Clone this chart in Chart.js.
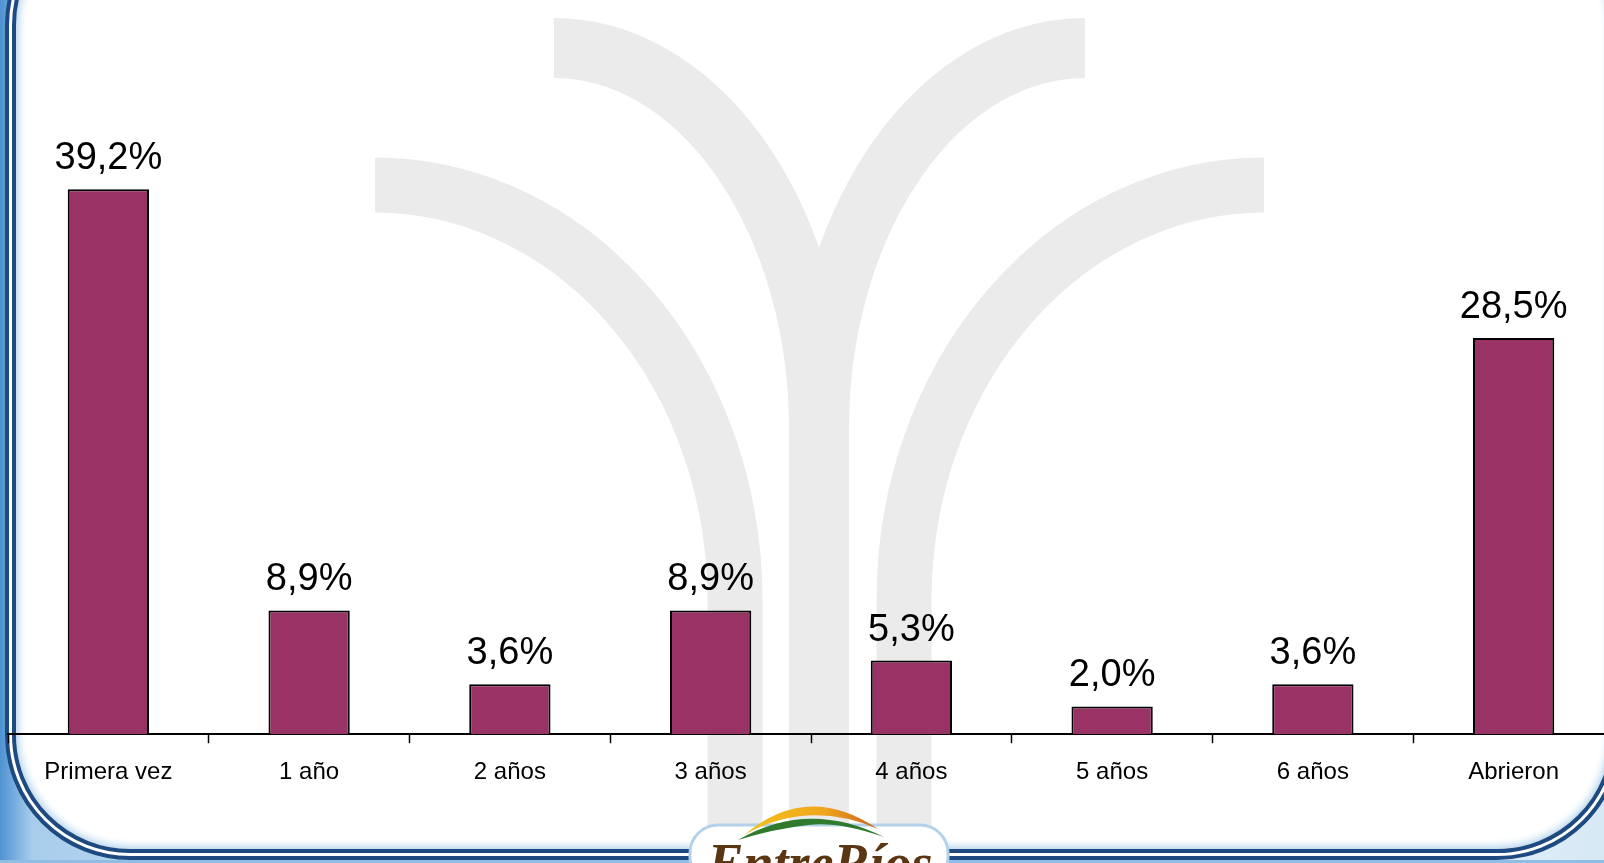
<!DOCTYPE html>
<html lang="es">
<head>
<meta charset="utf-8">
<title>Distribución por antigüedad</title>
<script src="https://cdn.jsdelivr.net/npm/chart.js@4.4.1/dist/chart.umd.min.js"></script>
<style>
  html, body { margin: 0; padding: 0; }
  body {
    width: 1604px; height: 863px; overflow: hidden; position: relative;
    background: linear-gradient(90deg, #4f92d2 0, #a8cdec 2%, #dcebf8 30%, #f3f8fd 60%, #d8e9f6 100%);
  }
  #frame {
    position: absolute; left: 5px; top: -100px; width: 1617px; height: 960px;
    box-sizing: border-box; border: 11px double #1d4a80; border-radius: 125px;
    background: #fff; box-shadow: inset 0 0 8px 2px #a9cdea;
  }
  #bottomBand {
    position: absolute; left: 0; top: 860px; width: 1604px; height: 3px; background: #8fbde3;
  }
  #tree, #logo, #chartWrap { position: absolute; }
  #tree { left: 0; top: 0; }
  #chartWrap { left: 0; top: 0; width: 1640px; height: 863px; }
  #logo { left: 688px; top: 795px; }
</style>
</head>
<body>
<div id="frame"></div>
<div id="bottomBand"></div>

<!-- faint tree watermark behind the chart -->
<svg id="tree" width="1604" height="863" viewBox="0 0 1604 863">
  <g fill="none" stroke="#ebebeb" stroke-linecap="butt">
    <path d="M 375 185 A 360 415 0 0 1 735 600 L 735 850" stroke-width="55"/>
    <path d="M 1264 185 A 360 415 0 0 0 904 600 L 904 850" stroke-width="55"/>
    <path d="M 554 48 A 265 381 0 0 1 819 429 L 819 850" stroke-width="60"/>
    <path d="M 1085 48 A 266 381 0 0 0 819 429 L 819 850" stroke-width="60"/>
  </g>
</svg>

<div id="chartWrap"><canvas id="barChart" width="1640" height="863"></canvas></div>

<svg id="logo" width="264" height="68" viewBox="0 0 264 68">
  <defs>
    <linearGradient id="sun" x1="0" y1="0" x2="1" y2="0">
      <stop offset="0" stop-color="#f4c21a"/>
      <stop offset="0.6" stop-color="#f0a51e"/>
      <stop offset="1" stop-color="#c8641e"/>
    </linearGradient>
  </defs>
  <rect x="2" y="30" width="258" height="60" rx="28" fill="#fff" stroke="#b3d2ea" stroke-width="3"/>
  <path d="M 56 40 Q 120 -14 190 34 Q 120 4 56 40 Z" fill="url(#sun)"/>
  <path d="M 50 45 Q 120 4 196 42 Q 150 26 120 30 Q 85 34 50 45 Z" fill="#2f7a2c"/>
  <text x="132" y="86" text-anchor="middle" font-family="'Liberation Serif', 'DejaVu Serif', serif"
        font-style="italic" font-weight="bold" font-size="54" fill="#5a3612">EntreRíos</text>
</svg>

<script>
// Data
const categories = ['Primera vez', '1 año', '2 años', '3 años', '4 años', '5 años', '6 años', 'Abrieron'];
const percentages = [39.2, 8.9, 3.6, 8.9, 5.3, 2.0, 3.6, 28.5];

const fmt = v => v.toFixed(1).replace('.', ',') + '%';

// value labels above each bar
const valueLabels = {
  id: 'valueLabels',
  afterDatasetsDraw(chart) {
    const ctx = chart.ctx;
    const meta = chart.getDatasetMeta(0);
    ctx.save();
    ctx.font = '38px "Liberation Sans", Arial, sans-serif';
    ctx.fillStyle = '#000';
    ctx.textAlign = 'center';
    ctx.textBaseline = 'alphabetic';
    meta.data.forEach((bar, i) => {
      ctx.fillText(fmt(percentages[i]), bar.x, bar.y - 20);
    });
    ctx.restore();
  }
};

const ctx = document.getElementById('barChart').getContext('2d');
new Chart(ctx, {
  type: 'bar',
  data: {
    labels: categories,
    datasets: [{
      data: percentages,
      backgroundColor: '#993366',
      borderColor: '#000',
      borderWidth: 2,
      categoryPercentage: 1,
      barPercentage: 0.405
    }]
  },
  options: {
    responsive: false,
    animation: false,
    events: [],
    layout: { padding: { left: 8, right: 26, top: 39, bottom: 61 } },
    plugins: { legend: { display: false }, tooltip: { enabled: false } },
    scales: {
      x: {
        grid: { drawOnChartArea: false, drawTicks: true, tickLength: 9, tickColor: '#000', tickWidth: 1.5 },
        border: { display: true, color: '#000', width: 2 },
        ticks: { color: '#000', padding: 15, font: { family: '"Liberation Sans", Arial, sans-serif', size: 24 } }
      },
      y: { display: false, min: 0, max: 50 }
    }
  },
  plugins: [valueLabels]
});
</script>
</body>
</html>
